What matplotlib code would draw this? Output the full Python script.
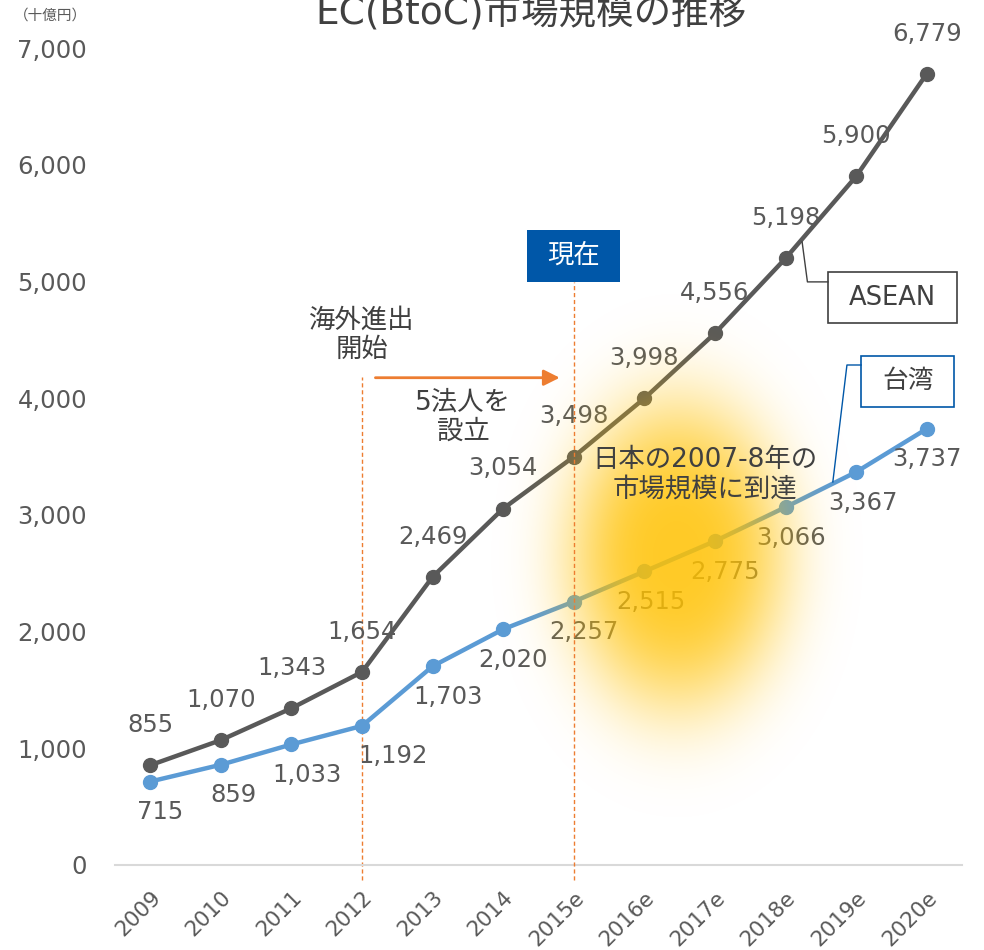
import numpy as np
import matplotlib
matplotlib.use('Agg')
import matplotlib.pyplot as plt
from matplotlib.patches import Rectangle

plt.rcParams['font.family'] = ['DejaVu Sans', 'Noto Sans CJK JP']

years = ['2009', '2010', '2011', '2012', '2013', '2014',
         '2015e', '2016e', '2017e', '2018e', '2019e', '2020e']
asean = [855, 1070, 1343, 1654, 2469, 3054, 3498, 3998, 4556, 5198, 5900, 6779]
taiwan = [715, 859, 1033, 1192, 1703, 2020, 2257, 2515, 2775, 3066, 3367, 3737]
yticks = [0, 1000, 2000, 3000, 4000, 5000, 6000, 7000]

GRAY = '#595959'
DARK = '#404040'
BLUE = '#5B9BD5'
NAVY = '#0057A8'
ORANGE = '#ED7D31'

fig = plt.figure(figsize=(9.84, 9.5), dpi=100)
ax = fig.add_axes([115/984, 85/950, (962-115)/984, (902-85)/950])
x = np.arange(len(years))

ax.plot(x, asean, color=GRAY, lw=3.2, marker='o', ms=10, zorder=3)
ax.plot(x, taiwan, color=BLUE, lw=3.2, marker='o', ms=10, zorder=3)

for i, v in enumerate(asean):
    ax.annotate('{:,}'.format(v), (i, v), xytext=(0, 29), textcoords='offset points',
                ha='center', va='center', fontsize=17.5, color=GRAY, zorder=4)
tw_dx = [7, 9, 11, 22, 11, 7, 7, 5, 7, 4, 5, 0]
for i, v in enumerate(taiwan):
    ax.annotate('{:,}'.format(v), (i, v), xytext=(tw_dx[i], -22), textcoords='offset points',
                ha='center', va='center', fontsize=17.5, color=GRAY, zorder=4)

ax.set_xlim(-0.5, len(years) - 0.5)
ax.set_ylim(0, 7000)
ax.set_xticks(x)
ax.set_xticklabels(years, rotation=45, ha='right', va='top', rotation_mode='anchor',
                   fontsize=15.5, color=GRAY)
ax.set_yticks(yticks)
ax.set_yticklabels(['{:,}'.format(v) for v in yticks], fontsize=17.5, color=GRAY)
ax.tick_params(length=0)
ax.tick_params(axis='y', pad=20)
ax.tick_params(axis='x', pad=16)
for s in ['top', 'right', 'left']:
    ax.spines[s].set_visible(False)
ax.spines['bottom'].set_color('#D9D9D9')
ax.spines['bottom'].set_linewidth(1.5)

# vertical dashed markers
ax.plot([3, 3], [-130, 4180], color=ORANGE, lw=1, ls=(0, (3, 2)), clip_on=False, zorder=2)
ax.plot([6, 6], [-130, 4996], color=ORANGE, lw=1, ls=(0, (3, 2)), clip_on=False, zorder=6)
ax.annotate('', xy=(5.84, 4175), xytext=(3.15, 4175),
            arrowprops=dict(arrowstyle='-|>', color=ORANGE, lw=2, mutation_scale=24))

ax.text(3.0, 4540, '海外進出\n開始', ha='center', va='center', fontsize=19,
        color=DARK, linespacing=1.15)
ax.text(4.43, 3840, '5法人を\n設立', ha='center', va='center', fontsize=19,
        color=DARK, linespacing=1.15)
ax.add_patch(Rectangle((5.34, 4996), 1.32, 445, fc=NAVY, ec='none', zorder=6))
ax.text(6.0, 5219, '現在', ha='center', va='center', fontsize=19, color='white', zorder=7)

# yellow glow
gx = np.linspace(4.5, 10.5, 500)
gy = np.linspace(0, 6500, 500)
GX, GY = np.meshgrid(gx, gy)
dxp = (GX - 7.46) * 70.6
dyp = (GY - 2650) * 0.1167
r = np.sqrt((dxp / 110) ** 2 + (dyp / 155) ** 2)
alpha = 0.85 * np.exp(-r ** 3.2)
img = np.zeros((len(gy), len(gx), 4))
img[..., 0] = 1.0
img[..., 1] = 0.76
img[..., 2] = 0.0
img[..., 3] = alpha
ax.imshow(img, extent=[gx[0], gx[-1], gy[0], gy[-1]], origin='lower',
          aspect='auto', zorder=5, interpolation='bilinear')

ax.text(7.86, 3345, '日本の2007-8年の\n市場規模に到達', ha='center', va='center',
        fontsize=19, color=DARK, linespacing=1.15, zorder=7)

# callouts
ax.add_patch(Rectangle((9.60, 4644), 1.83, 437, fc='white', ec=DARK, lw=1.2,
                       clip_on=False, zorder=6))
ax.text(10.51, 4862, 'ASEAN', ha='center', va='center', fontsize=18.5, color=DARK, zorder=7)
ax.plot([9.235, 9.31, 9.60], [5338, 4996, 4996], color=DARK, lw=1, zorder=6)

ax.add_patch(Rectangle((10.07, 3925), 1.32, 437, fc='white', ec=NAVY, lw=1.2,
                       clip_on=False, zorder=6))
ax.text(10.73, 4143, '台湾', ha='center', va='center', fontsize=18.5, color=DARK, zorder=7)
ax.plot([9.67, 9.87, 10.07], [3282, 4284, 4284], color=NAVY, lw=1, zorder=6)

fig.text(531/984, (950-24)/950, 'EC(BtoC)市場規模の推移', ha='center', va='baseline',
         fontsize=27, color=DARK)
fig.text(50/984, (950-15)/950, '（十億円）', ha='center', va='center', fontsize=10.5,
         color=GRAY)

fig.savefig('out.png', dpi=100)
